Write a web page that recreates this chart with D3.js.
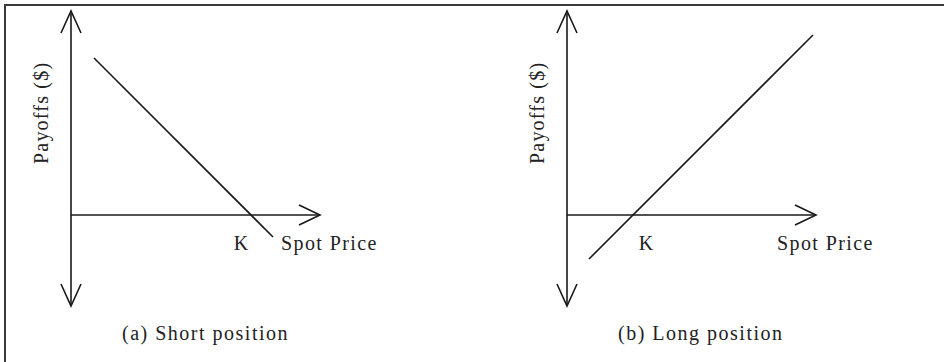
<!DOCTYPE html>
<html>
<head>
<meta charset="utf-8">
<script src="https://cdn.jsdelivr.net/npm/d3@7"></script>
<style>
    html, body { margin: 0; padding: 0; background: #fff; }
</style>
</head>
<body>
<div id="chart"></div>
<script>
// Panel captions and labels
const panelTitles = ['(a) Short position', '(b) Long position'];
const axisLabelY = 'Payoffs ($)';
const axisLabelX = 'Spot Price';
const strikeLabel = 'K';

// Payoff line end points (spot price, payoff)
const shortSpot = [23, 202];
const shortPayoff = [157, -22];
const longSpot = [22, 246];
const longPayoff = [-44, 180];

// Where the K label sits on each spot axis
const strikeLabelSpot = [170, 79];

const width = 944;
const height = 362;
const serif = "'Liberation Serif', 'Times New Roman', Times, 'DejaVu Serif', serif";

const svg = d3.select('#chart').append('svg')
    .attr('width', width)
    .attr('height', height)
    .attr('font-family', serif);

// Frame: only the top and left edges are visible in the crop
svg.append('path')
    .attr('d', `M5,${height} L5,5 L${width},5`)
    .attr('fill', 'none')
    .attr('stroke', '#3a3a3a')
    .attr('stroke-width', 2);

const panels = [
    { title: panelTitles[0], spot: shortSpot, payoff: shortPayoff, k: strikeLabelSpot[0], left: 71 },
    { title: panelTitles[1], spot: longSpot, payoff: longPayoff, k: strikeLabelSpot[1], left: 567 }
];

panels.forEach(p => {
    // Scales: spot price to x, payoff to y (origin sits where both are zero)
    const x = d3.scaleLinear().domain([0, 249]).range([p.left, p.left + 249]);
    const y = d3.scaleLinear().domain([-91, 204]).range([306, 11]);

    const g = svg.append('g');
    const ink = '#1a1a1a';

    // Vertical axis with arrows at both ends
    g.append('line')
        .attr('x1', x(0)).attr('x2', x(0))
        .attr('y1', y(204)).attr('y2', y(-91))
        .attr('stroke', ink).attr('stroke-width', 1.6);

    g.append('path')
        .attr('d', `M${x(0) - 10},${y(204) + 22} L${x(0)},${y(204)} L${x(0) + 10},${y(204) + 22}`)
        .attr('fill', 'none').attr('stroke', ink).attr('stroke-width', 1.6);

    g.append('path')
        .attr('d', `M${x(0) - 10},${y(-91) - 22} L${x(0)},${y(-91)} L${x(0) + 10},${y(-91) - 22}`)
        .attr('fill', 'none').attr('stroke', ink).attr('stroke-width', 1.6);

    // Horizontal axis with arrow at the right end
    g.append('line')
        .attr('x1', x(0)).attr('x2', x(249))
        .attr('y1', y(0)).attr('y2', y(0))
        .attr('stroke', ink).attr('stroke-width', 1.6);

    g.append('path')
        .attr('d', `M${x(249) - 21},${y(0) - 10} L${x(249)},${y(0)} L${x(249) - 21},${y(0) + 10}`)
        .attr('fill', 'none').attr('stroke', ink).attr('stroke-width', 1.6);

    // Payoff line
    const line = d3.line()
        .x(d => x(d[0]))
        .y(d => y(d[1]));

    g.append('path')
        .datum(d3.zip(p.spot, p.payoff))
        .attr('d', line)
        .attr('fill', 'none')
        .attr('stroke', ink)
        .attr('stroke-width', 1.6);

    // Labels
    g.append('text')
        .attr('x', x(p.k))
        .attr('y', y(0) + 35)
        .attr('text-anchor', 'middle')
        .attr('font-size', 20)
        .attr('fill', '#222')
        .text(strikeLabel);

    g.append('text')
        .attr('x', x(249) - 39)
        .attr('y', y(0) + 35)
        .attr('font-size', 20)
        .attr('fill', '#222')
        .attr('letter-spacing', 1.4)
        .text(axisLabelX);

    g.append('text')
        .attr('transform', `translate(${x(0) - 23},164) rotate(-90)`)
        .attr('font-size', 20)
        .attr('fill', '#222')
        .attr('letter-spacing', 1.2)
        .text(axisLabelY);

    g.append('text')
        .attr('x', x(0) + 51)
        .attr('y', 340)
        .attr('font-size', 20)
        .attr('fill', '#222')
        .attr('letter-spacing', 1.5)
        .text(p.title);
});
</script>
</body>
</html>
